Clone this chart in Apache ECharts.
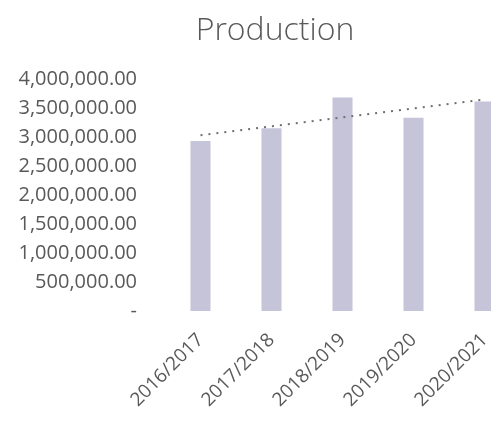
<!DOCTYPE html>
<html><head><meta charset="utf-8">
<script src="https://cdn.jsdelivr.net/npm/echarts@6/dist/echarts.min.js"></script>
<style>html,body{margin:0;padding:0;background:#fff}#c{width:491px;height:423px}</style>
</head><body><div id="c"></div>
<script>
const title = "Production";
const categories = ["2016/2017","2017/2018","2018/2019","2019/2020","2020/2021"];
const production = [2930000, 3150000, 3680000, 3330000, 3610000];
const yTicks = [0, 500000, 1000000, 1500000, 2000000, 2500000, 3000000, 3500000, 4000000];

// linear trendline (least squares) from the data
const n = production.length;
const mx = (n - 1) / 2;
const my = production.reduce((a, b) => a + b, 0) / n;
let sxy = 0, sxx = 0;
production.forEach((v, i) => { sxy += (i - mx) * (v - my); sxx += (i - mx) * (i - mx); });
const slope = sxy / sxx;
const trend = production.map((v, i) => my + slope * (i - mx));

function fmt(v) {
  if (v === 0) return "-";
  return v.toLocaleString("en-US", {minimumFractionDigits: 2, maximumFractionDigits: 2});
}

const chart = echarts.init(document.getElementById('c'), null, {renderer: 'canvas'});
chart.setOption({
  animation: false,
  title: {
    text: title, left: 270, top: 10, textAlign: 'center',
    textStyle: {fontFamily: 'Open Sans', fontWeight: 300, fontSize: 32, color: '#595959'}
  },
  grid: {left: 165, top: 79, width: 355, height: 232, containLabel: false, outerBoundsMode: 'none'},
  xAxis: {
    type: 'category', data: categories,
    axisLine: {show: false}, axisTick: {show: false},
    axisLabel: {rotate: 45, margin: 26, fontFamily: 'Open Sans', fontSize: 19, color: '#595959', interval: 0}
  },
  yAxis: {
    type: 'value', min: 0, max: 4000000, interval: 500000,
    splitLine: {show: false}, axisLine: {show: false}, axisTick: {show: false},
    axisLabel: {margin: 28, fontFamily: 'Open Sans', fontSize: 20, color: '#595959', formatter: fmt}
  },
  series: [
    {type: 'bar', data: production, barWidth: 20, itemStyle: {color: '#c6c4d8'}},
    {type: 'line', data: trend, symbol: 'none', lineStyle: {type: [2, 6], width: 2, color: '#707070'}, z: 3}
  ]
});
</script></body></html>
